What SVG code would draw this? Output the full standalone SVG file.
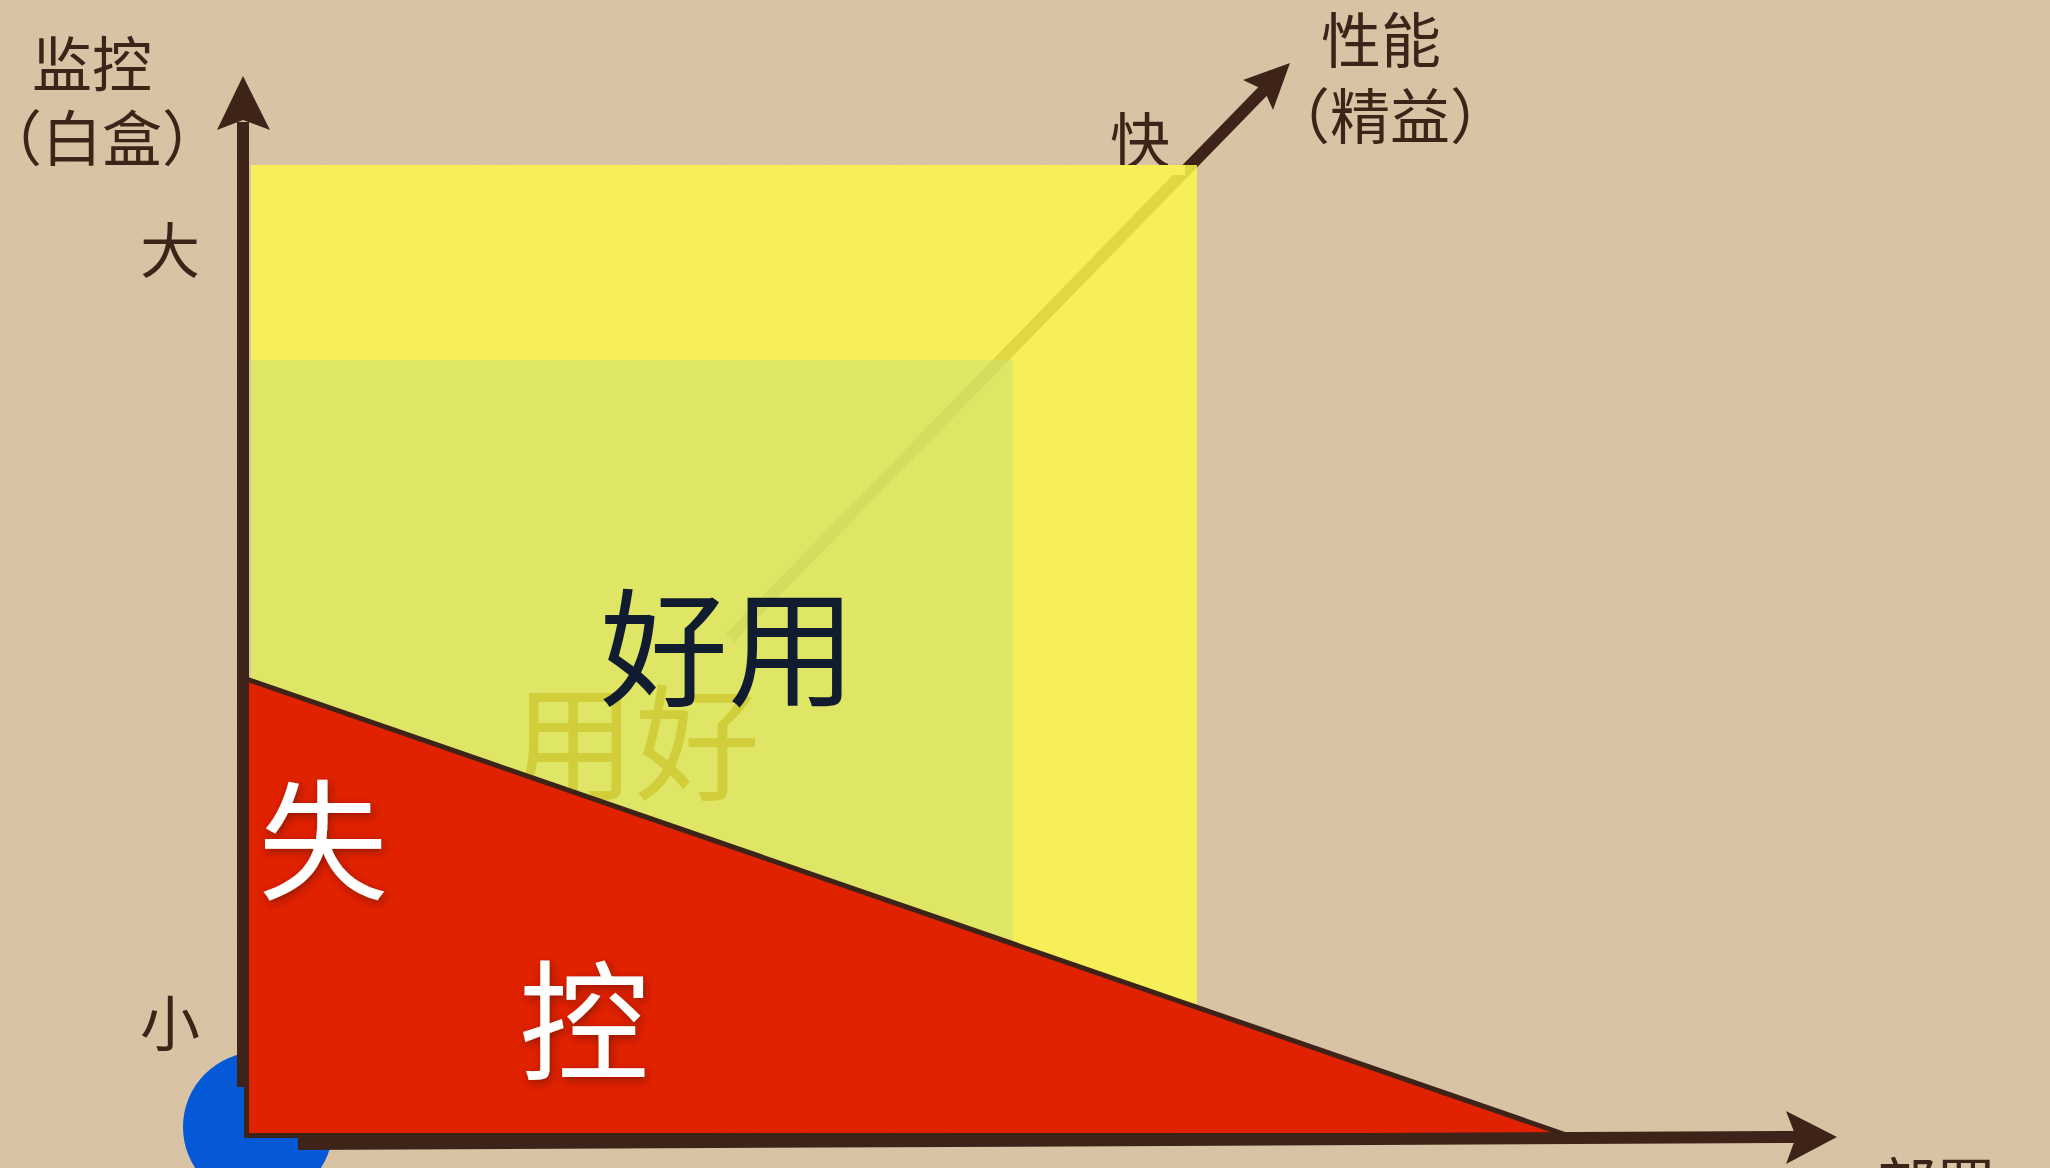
<svg xmlns="http://www.w3.org/2000/svg" width="2050" height="1168" viewBox="0 0 2050 1168">
  <style>
    .lbl { font-family: "Noto Sans CJK SC", "Noto Sans", sans-serif; font-size: 60px; fill: #3e2319; text-anchor: middle; }
    .paren { font-feature-settings: "halt" 1; }
    .big { font-family: "Noto Sans CJK SC", "Noto Sans", sans-serif; text-anchor: middle; }
    .white { fill: #ffffff; font-size: 130px; filter: url(#glow); }
    .axis { stroke: #3e2319; stroke-width: 12; fill: none; }
    .head { fill: #3e2319; }
  </style>
  <defs>
    <filter id="glow" x="-30%" y="-30%" width="160%" height="160%">
      <feDropShadow dx="2" dy="3" stdDeviation="4" flood-color="#8a1200" flood-opacity="0.9"/>
    </filter>
    <filter id="paper" x="0" y="0" width="100%" height="100%">
      <feTurbulence type="fractalNoise" baseFrequency="0.9" numOctaves="2" seed="3" result="n"/>
      <feColorMatrix type="matrix" values="0 0 0 0 0.45  0 0 0 0 0.35  0 0 0 0 0.22  0 0 0 0.12 0" in="n"/>
    </filter>
  </defs>

  <!-- background -->
  <rect id="bg" x="0" y="0" width="2050" height="1168" fill="#dac5a7"/>
  <rect x="0" y="0" width="2050" height="1168" filter="url(#paper)"/>

  <!-- blue circle at origin -->
  <circle id="origin-dot" cx="258" cy="1127" r="75" fill="#0558d6"/>

  <g id="connectors">
    <!-- performance axis (diagonal), partly seen through yellow -->
    <line class="axis" x1="730" y1="638" x2="1264" y2="90"/>
    <polygon class="head" points="1290,63 1243,80 1264,90 1273,110"/>
  </g>

  <!-- yellow regions -->
  <g id="region-outer">
    <rect x="251" y="165" width="946" height="972" fill="#fcf64a" fill-opacity="0.86"/>
  </g>
  <g id="region-inner">
    <rect x="251" y="360" width="762" height="777" fill="#d0e070" fill-opacity="0.62"/>
  </g>

  <!-- reflection text -->
  <text id="reflect" class="big" x="635" y="790" font-size="125" fill="#d2cd3a">用好</text>

  <!-- good region label -->
  <g id="node-good">
    <text class="big" x="728" y="697" font-size="128" fill="#121c30">好用</text>
  </g>

  <!-- red out-of-control triangle -->
  <g id="region-red">
    <polygon points="246.5,679 1568,1135.5 246.5,1135.5" fill="#e02200" stroke="#3e2319" stroke-width="5" stroke-linejoin="miter"/>
    <text class="big white" x="323" y="889">失</text>
    <text class="big white" x="584" y="1070">控</text>
  </g>

  <!-- axes -->
  <g id="axis-y">
    <line class="axis" x1="243" y1="1087" x2="243" y2="122"/>
    <polygon class="head" points="243,76 270,130 243,120 217,130"/>
  </g>
  <g id="axis-x">
    <line class="axis" x1="298" y1="1144" x2="1800" y2="1137"/>
    <polygon class="head" points="1837,1137 1786,1164 1796,1137 1786,1111"/>
  </g>

  <!-- labels -->
  <g id="label-y">
    <text class="lbl" x="92" y="87">监控</text>
    <text class="lbl paren" x="102" y="161">（白盒）</text>
  </g>
  <g id="label-big"><text class="lbl" x="170" y="273">大</text></g>
  <g id="label-small"><text class="lbl" x="170" y="1046">小</text></g>
  <g id="label-fast"><text class="lbl" x="1140" y="163">快</text></g>
  <g id="label-perf">
    <text class="lbl" x="1381" y="63">性能</text>
    <text class="lbl paren" x="1390" y="139">（精益）</text>
  </g>
  <g id="label-x"><text class="lbl" x="1936" y="1208">部署</text></g>

  <!-- yellow overlaps bottom of 快 -->
  <rect x="1100" y="165" width="85" height="10" fill="#f7ef58"/>
</svg>
